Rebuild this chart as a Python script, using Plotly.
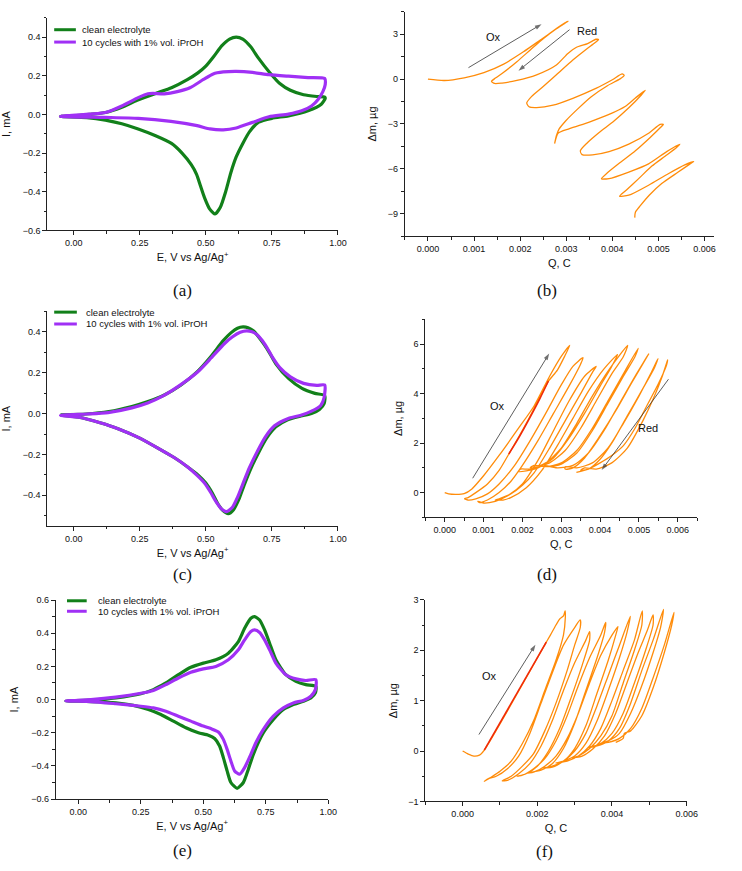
import plotly.graph_objects as go

# ---------------- data ----------------
# (a) CV, E (V) and I (mA)
a_clean_E = [-0.05, 0.0, 0.06, 0.12, 0.18, 0.24, 0.31, 0.37, 0.43, 0.47, 0.50, 0.53, 0.56, 0.59, 0.615, 0.64, 0.67, 0.70, 0.74, 0.78, 0.82, 0.87, 0.92, 0.95,
             0.952, 0.937, 0.887, 0.813, 0.75, 0.70, 0.665, 0.64, 0.615, 0.595, 0.575, 0.555, 0.535, 0.515, 0.495, 0.48, 0.465, 0.445, 0.41, 0.37, 0.31, 0.244, 0.182, 0.12, 0.05, -0.05]
a_clean_I = [-0.01, -0.008, 0.0, 0.01, 0.036, 0.073, 0.109, 0.138, 0.18, 0.215, 0.25, 0.30, 0.355, 0.39, 0.40, 0.39, 0.35, 0.29, 0.22, 0.16, 0.125, 0.102, 0.093, 0.09,
             0.084, 0.053, 0.019, -0.007, -0.02, -0.04, -0.09, -0.15, -0.22, -0.30, -0.40, -0.48, -0.515, -0.49, -0.43, -0.37, -0.31, -0.26, -0.20, -0.15, -0.11, -0.075, -0.048, -0.029, -0.016, -0.01]
a_iproh_E = [-0.05, 0.058, 0.12, 0.182, 0.244, 0.281, 0.30, 0.343, 0.392, 0.44, 0.491, 0.528, 0.566, 0.615, 0.677, 0.739, 0.813, 0.887, 0.95,
             0.952, 0.943, 0.925, 0.90, 0.863, 0.813, 0.739, 0.677, 0.615, 0.566, 0.516, 0.467, 0.368, 0.244, 0.12, -0.05]
a_iproh_I = [-0.01, 0.002, 0.01, 0.044, 0.087, 0.107, 0.109, 0.107, 0.118, 0.138, 0.181, 0.21, 0.22, 0.223, 0.218, 0.206, 0.198, 0.191, 0.186,
             0.155, 0.118, 0.078, 0.044, 0.019, 0.002, -0.012, -0.041, -0.07, -0.08, -0.075, -0.058, -0.036, -0.02, -0.015, -0.01]

# (c) CV
c_clean_E = [-0.05, 0.046, 0.133, 0.22, 0.281, 0.343, 0.405, 0.467, 0.517, 0.566, 0.595, 0.62, 0.641, 0.66, 0.68, 0.70, 0.72, 0.74, 0.765, 0.814, 0.864, 0.913, 0.95,
             0.948, 0.93, 0.90, 0.86, 0.81, 0.765, 0.73, 0.70, 0.67, 0.645, 0.625, 0.605, 0.585, 0.565, 0.545, 0.525, 0.50, 0.47, 0.43, 0.38, 0.32, 0.25, 0.17, 0.10, 0.02, -0.05]
c_clean_I = [-0.006, -0.002, 0.01, 0.035, 0.059, 0.091, 0.139, 0.204, 0.276, 0.357, 0.395, 0.418, 0.424, 0.42, 0.405, 0.375, 0.34, 0.30, 0.244, 0.171, 0.123, 0.099, 0.088,
             0.05, 0.02, 0.0, -0.012, -0.03, -0.065, -0.12, -0.19, -0.27, -0.35, -0.42, -0.47, -0.49, -0.475, -0.44, -0.39, -0.34, -0.30, -0.26, -0.215, -0.17, -0.12, -0.075, -0.045, -0.018, -0.008]
c_iproh_E = [-0.05, 0.05, 0.13, 0.22, 0.28, 0.34, 0.40, 0.47, 0.52, 0.57, 0.60, 0.63, 0.655, 0.675, 0.695, 0.715, 0.735, 0.755, 0.78, 0.82, 0.87, 0.92, 0.95,
             0.948, 0.935, 0.90, 0.86, 0.81, 0.76, 0.725, 0.695, 0.665, 0.64, 0.62, 0.60, 0.578, 0.558, 0.538, 0.518, 0.495, 0.465, 0.43, 0.38, 0.32, 0.25, 0.17, 0.10, 0.02, -0.05]
c_iproh_I = [-0.008, -0.002, 0.005, 0.028, 0.052, 0.088, 0.137, 0.205, 0.272, 0.342, 0.375, 0.398, 0.405, 0.4, 0.385, 0.355, 0.315, 0.27, 0.225, 0.18, 0.148, 0.138, 0.14,
             0.08, 0.04, 0.012, -0.008, -0.025, -0.06, -0.115, -0.185, -0.265, -0.345, -0.41, -0.46, -0.48, -0.465, -0.43, -0.385, -0.34, -0.30, -0.26, -0.215, -0.17, -0.12, -0.075, -0.045, -0.018, -0.008]

# (e) CV
e_clean_E = [-0.05, 0.05, 0.15, 0.25, 0.30, 0.35, 0.40, 0.45, 0.50, 0.55, 0.60, 0.64, 0.665, 0.69, 0.705, 0.725, 0.745, 0.765, 0.79, 0.83, 0.87, 0.91, 0.95,
             0.948, 0.93, 0.90, 0.86, 0.82, 0.78, 0.74, 0.70, 0.68, 0.66, 0.635, 0.61, 0.595, 0.58, 0.565, 0.545, 0.52, 0.48, 0.43, 0.38, 0.33, 0.28, 0.22, 0.15, 0.05, -0.05]
e_clean_I = [-0.008, -0.003, 0.01, 0.035, 0.06, 0.10, 0.15, 0.195, 0.22, 0.24, 0.28, 0.35, 0.43, 0.49, 0.50, 0.48, 0.42, 0.34, 0.24, 0.15, 0.11, 0.09, 0.08,
             0.04, 0.01, -0.01, -0.03, -0.06, -0.12, -0.20, -0.33, -0.42, -0.50, -0.535, -0.50, -0.43, -0.35, -0.28, -0.235, -0.215, -0.20, -0.17, -0.13, -0.09, -0.06, -0.035, -0.02, -0.012, -0.008]
e_iproh_E = [-0.05, 0.05, 0.15, 0.25, 0.30, 0.35, 0.40, 0.45, 0.50, 0.55, 0.60, 0.64, 0.665, 0.69, 0.705, 0.725, 0.745, 0.765, 0.79, 0.83, 0.87, 0.91, 0.95,
             0.948, 0.93, 0.90, 0.86, 0.82, 0.78, 0.74, 0.71, 0.69, 0.665, 0.645, 0.625, 0.61, 0.595, 0.58, 0.56, 0.53, 0.50, 0.45, 0.40, 0.35, 0.30, 0.25, 0.15, 0.05, -0.05]
e_iproh_I = [-0.008, 0.0, 0.015, 0.038, 0.055, 0.09, 0.13, 0.165, 0.185, 0.20, 0.24, 0.30, 0.36, 0.41, 0.42, 0.405, 0.36, 0.30, 0.22, 0.15, 0.125, 0.115, 0.12,
             0.06, 0.02, -0.005, -0.02, -0.05, -0.10, -0.18, -0.26, -0.33, -0.41, -0.45, -0.43, -0.37, -0.30, -0.24, -0.195, -0.175, -0.16, -0.13, -0.10, -0.07, -0.05, -0.04, -0.025, -0.012, -0.008]

# (b) EQCM: Q (C), dm (ug)
b_Q = [0.0, 0.000357, 0.000786, 0.001214, 0.001643, 0.002071, 0.002429, 0.002714, 0.002929, 0.003036,
       0.002964, 0.002786, 0.0025, 0.002214, 0.001929, 0.001643, 0.001464, 0.001379, 0.001443,
       0.001607, 0.001929, 0.002357, 0.002786, 0.003036, 0.003214, 0.003464, 0.003643, 0.0037,
       0.003629, 0.003429, 0.003143, 0.002786, 0.0025, 0.00225, 0.002143, 0.002193,
       0.002357, 0.002714, 0.003143, 0.003643, 0.004, 0.004214, 0.004257,
       0.004157, 0.003893, 0.003536, 0.00325, 0.002986, 0.002843, 0.002786, 0.00275,
       0.002821, 0.003071, 0.0035, 0.003929, 0.004286, 0.0045, 0.004714,
       0.004629, 0.004357, 0.004036, 0.003714, 0.003464, 0.003307, 0.003343,
       0.003571, 0.003929, 0.004357, 0.004786, 0.005036, 0.005107,
       0.005043, 0.004821, 0.0045, 0.004179, 0.003893, 0.003764,
       0.003929, 0.004357, 0.004786, 0.005179, 0.005464,
       0.005393, 0.005143, 0.004857, 0.004571, 0.0043, 0.004157,
       0.004357, 0.004786, 0.005214, 0.005571, 0.005764,
       0.005679, 0.005429, 0.005071, 0.0048, 0.004607, 0.0045, 0.004486]
b_m = [0.0, -0.09, 0.09, 0.44, 1.01, 1.83, 2.60, 3.22, 3.66, 3.88,
       3.75, 3.38, 2.71, 1.94, 1.17, 0.46, 0.07, -0.15, -0.29,
       -0.26, -0.09, 0.29, 0.95, 1.72, 2.12, 2.38, 2.67, 2.65,
       2.45, 1.99, 1.28, 0.29, -0.49, -1.15, -1.59, -1.85,
       -1.90, -1.74, -1.28, -0.62, -0.04, 0.35, 0.24,
       0.0, -0.44, -1.19, -1.99, -2.80, -3.35, -3.79, -4.28,
       -3.62, -3.31, -2.87, -2.36, -1.81, -1.26, -0.75,
       -1.06, -1.92, -2.80, -3.57, -4.24, -4.79, -5.05,
       -5.07, -4.85, -4.35, -3.62, -3.02, -3.02,
       -3.24, -3.90, -4.79, -5.56, -6.27, -6.66,
       -6.66, -6.22, -5.67, -4.85, -4.35,
       -4.57, -5.16, -5.82, -6.66, -7.43, -7.83,
       -7.77, -7.10, -6.33, -5.74, -5.52,
       -5.69, -6.22, -6.99, -7.77, -8.47, -8.91, -9.27]

# (d) EQCM
d_Q = [0.0, 0.0001, 0.0003, 0.0005, 0.0007, 0.001, 0.0014, 0.0019, 0.0023, 0.0027, 0.003, 0.00322,
       0.0031, 0.0029, 0.00267, 0.0024, 0.0021, 0.00185, 0.00165, 0.0014, 0.0011, 0.0008, 0.0006, 0.00051,
       0.0006, 0.0008, 0.0011, 0.0014, 0.0018, 0.0022, 0.0026, 0.003, 0.0033, 0.00356,
       0.0035, 0.0032, 0.0028, 0.0024, 0.002, 0.0017, 0.0014, 0.0011, 0.0009, 0.00085,
       0.001, 0.0013, 0.0016, 0.002, 0.0024, 0.0028, 0.0032, 0.0036, 0.0039,
       0.0038, 0.0035, 0.0031, 0.0027, 0.0023, 0.002, 0.0017, 0.0014, 0.0013,
       0.0015, 0.0017, 0.0021, 0.0025, 0.0029, 0.0033, 0.0037, 0.0041, 0.00445,
       0.0043, 0.004, 0.0036, 0.0032, 0.0028, 0.0024, 0.0021, 0.0019, 0.00195,
       0.0022, 0.0026, 0.003, 0.0034, 0.0038, 0.0042, 0.00471,
       0.0046, 0.0043, 0.0039, 0.0035, 0.0031, 0.0027, 0.0024, 0.0022, 0.0023,
       0.0026, 0.003, 0.0034, 0.0038, 0.0042, 0.0046, 0.00498,
       0.0049, 0.0046, 0.0042, 0.0038, 0.0034, 0.003, 0.0027, 0.0026,
       0.0029, 0.0033, 0.0037, 0.0041, 0.0045, 0.0049, 0.00525,
       0.0051, 0.0048, 0.0044, 0.004, 0.0036, 0.0033, 0.0031, 0.0031,
       0.0034, 0.0038, 0.0042, 0.0046, 0.005, 0.0053, 0.00549,
       0.0054, 0.0051, 0.0047, 0.0043, 0.004, 0.0037, 0.0035, 0.0036,
       0.0039, 0.0043, 0.0047, 0.0051, 0.0054, 0.0056, 0.00574,
       0.0057, 0.0055, 0.0052, 0.0049, 0.0046, 0.0043, 0.004, 0.0037, 0.00339]
d_m = [0.0, -0.05, -0.07, -0.04, 0.15, 0.68, 1.5, 2.6, 3.5, 4.7, 5.5, 5.95,
       5.55, 4.95, 4.5, 3.7, 2.8, 2.1, 1.56, 0.9, 0.35, 0.0, -0.2, -0.25,
       -0.3, -0.25, -0.05, 0.35, 1.1, 2.1, 3.2, 4.35, 5.1, 5.45,
       5.2, 4.3, 3.2, 2.1, 1.1, 0.45, 0.0, -0.3, -0.4, -0.35,
       -0.42, -0.35, -0.15, 0.35, 1.3, 2.5, 3.7, 4.7, 5.1,
       4.85, 4.0, 2.9, 1.8, 0.8, 0.3, -0.05, -0.25, -0.3,
       -0.3, -0.2, 0.2, 0.9, 1.9, 3.0, 4.1, 5.0, 5.58,
       5.1, 4.3, 3.2, 2.2, 1.4, 1.0, 0.88, 0.85, 0.95,
       0.95, 1.2, 1.8, 2.8, 3.9, 4.9, 5.95,
       5.5, 4.8, 3.7, 2.6, 1.7, 1.2, 1.05, 1.0, 1.1,
       1.05, 1.2, 1.7, 2.6, 3.7, 4.8, 5.83,
       5.5, 4.7, 3.6, 2.5, 1.6, 1.15, 1.05, 1.1,
       1.0, 1.1, 1.6, 2.5, 3.6, 4.7, 5.6,
       5.2, 4.4, 3.3, 2.3, 1.4, 1.0, 0.95, 1.05,
       1.0, 1.2, 1.8, 2.8, 3.9, 4.8, 5.41,
       5.05, 4.2, 3.1, 2.0, 1.35, 0.95, 0.9, 1.0,
       0.95, 1.2, 1.8, 2.9, 3.9, 4.7, 5.36,
       5.1, 4.4, 3.5, 2.6, 1.9, 1.5, 1.2, 0.95, 0.82]
d_red_Q = [0.00165, 0.0019, 0.0022, 0.00245, 0.00267]
d_red_m = [1.56, 2.2, 3.05, 3.8, 4.51]

# (f) EQCM
f_Q = [0.0, 0.00015, 0.0003, 0.00045, 0.00058, 0.00224, 0.00235, 0.0025, 0.0026, 0.0027, 0.002745,
       0.00275, 0.0027, 0.0025, 0.0022, 0.0019, 0.0016, 0.0013, 0.001, 0.0008, 0.00062, 0.00058,
       0.0007, 0.0009, 0.0012, 0.0015, 0.0018, 0.0021, 0.0024, 0.0027, 0.003, 0.00315,
       0.00315, 0.003, 0.0028, 0.0025, 0.0022, 0.0019, 0.0016, 0.0013, 0.00106,
       0.0012, 0.0015, 0.0018, 0.0021, 0.0024, 0.0027, 0.003, 0.0033, 0.0034,
       0.0034, 0.0032, 0.0029, 0.0026, 0.0023, 0.002, 0.0017, 0.00146,
       0.0016, 0.0019, 0.0022, 0.0025, 0.0028, 0.0031, 0.0034, 0.0037, 0.00383,
       0.0038, 0.0036, 0.0033, 0.003, 0.0027, 0.0024, 0.0021, 0.00172,
       0.0019, 0.0022, 0.0025, 0.0028, 0.0031, 0.0034, 0.0037, 0.004, 0.00416,
       0.0041, 0.0039, 0.0036, 0.0033, 0.003, 0.0027, 0.0024, 0.00215,
       0.0024, 0.0027, 0.003, 0.0033, 0.0036, 0.0039, 0.0042, 0.00449,
       0.0044, 0.0042, 0.0039, 0.0036, 0.0033, 0.003, 0.0027, 0.0025,
       0.0028, 0.0031, 0.0034, 0.0037, 0.004, 0.0043, 0.0046, 0.00481,
       0.0048, 0.0046, 0.0043, 0.004, 0.0037, 0.0034, 0.0031, 0.00294,
       0.0032, 0.0035, 0.0038, 0.0041, 0.0044, 0.0047, 0.00495, 0.0051,
       0.0051, 0.0049, 0.0046, 0.0043, 0.004, 0.0037, 0.00337,
       0.0036, 0.0039, 0.0042, 0.0045, 0.0048, 0.0051, 0.00538,
       0.0053, 0.0051, 0.0048, 0.0045, 0.0042, 0.0039, 0.00368,
       0.0039, 0.0042, 0.0045, 0.0048, 0.0051, 0.0054, 0.00566,
       0.0056, 0.0054, 0.0051, 0.0048, 0.0045, 0.00433, 0.0043, 0.0041]
f_m = [0.0, -0.06, -0.1, -0.08, 0.02, 2.16, 2.3, 2.5, 2.62, 2.68, 2.78,
       2.65, 2.3, 1.8, 1.2, 0.6, 0.15, -0.2, -0.4, -0.5, -0.58, -0.6,
       -0.55, -0.5, -0.35, -0.1, 0.35, 0.95, 1.55, 2.1, 2.45, 2.6,
       2.45, 2.1, 1.6, 0.95, 0.4, -0.05, -0.3, -0.5, -0.59,
       -0.58, -0.45, -0.25, 0.1, 0.6, 1.2, 1.75, 2.2, 2.37,
       2.2, 1.7, 1.05, 0.45, 0.0, -0.3, -0.45, -0.5,
       -0.48, -0.35, -0.15, 0.2, 0.7, 1.3, 1.85, 2.3, 2.55,
       2.35, 1.85, 1.2, 0.55, 0.05, -0.25, -0.38, -0.44,
       -0.42, -0.3, -0.1, 0.25, 0.75, 1.35, 1.9, 2.3, 2.47,
       2.3, 1.8, 1.15, 0.5, 0.05, -0.2, -0.3, -0.34,
       -0.32, -0.2, 0.0, 0.35, 0.9, 1.5, 2.1, 2.67,
       2.35, 1.85, 1.2, 0.6, 0.15, -0.1, -0.2, -0.24,
       -0.2, -0.1, 0.1, 0.45, 1.0, 1.6, 2.2, 2.78,
       2.5, 2.0, 1.35, 0.7, 0.3, 0.05, -0.1, -0.14,
       -0.1, 0.05, 0.3, 0.75, 1.35, 1.95, 2.4, 2.7,
       2.5, 2.0, 1.35, 0.75, 0.35, 0.15, 0.07,
       0.1, 0.2, 0.45, 0.95, 1.6, 2.2, 2.81,
       2.45, 1.95, 1.3, 0.75, 0.35, 0.2, 0.15,
       0.17, 0.25, 0.45, 0.85, 1.45, 2.1, 2.75,
       2.5, 1.95, 1.25, 0.7, 0.4, 0.35, 0.25, 0.17]
f_red_Q = [0.00058, 0.00224]
f_red_m = [0.02, 2.16]

# direction arrows (tail -> head), in data units of each panel
b_ox_arrow_Q, b_ox_arrow_m = [0.000879, 0.002464], [0.77, 3.68]
b_red_arrow_Q, b_red_arrow_m = [0.003071, 0.001964], [3.31, 0.57]
d_ox_arrow_Q, d_ox_arrow_m = [0.00072, 0.00269], [0.58, 5.62]
d_red_arrow_Q, d_red_arrow_m = [0.00576, 0.00404], [4.58, 0.91]
f_ox_arrow_Q, f_ox_arrow_m = [0.000436, 0.00195], [0.327, 2.11]

legend_labels = ["clean electrolyte", "10 cycles with 1% vol. iPrOH"]
panel_labels = ["(a)", "(b)", "(c)", "(d)", "(e)", "(f)"]

# ---------------- styles ----------------
W, H = 742, 871
GREEN = "#12801a"
PURPLE = "#a030f5"
ORANGE = "#ff8c0a"
RED = "#f02a0a"
AXC = "#222222"
FONT = "Liberation Sans, Arial, sans-serif"

def px_dom_x(x0, x1):
    return [x0 / W, x1 / W]

def px_dom_y(y0, y1):
    return [1 - y1 / H, 1 - y0 / H]

fig = go.Figure()

def cv(E, I, color, xa, ya):
    fig.add_trace(go.Scatter(x=E, y=I, mode="lines", xaxis=xa, yaxis=ya, showlegend=False,
                             line=dict(color=color, width=3.2, shape="spline", smoothing=0.6)))

def mq(Q, m, color, xa, ya, w=1.3, smooth=True):
    fig.add_trace(go.Scatter(x=Q, y=m, mode="lines", xaxis=xa, yaxis=ya, showlegend=False,
                             line=dict(color=color, width=w, shape="spline" if smooth else "linear", smoothing=0.7)))

def arrow(Q, m, xa, ya):
    fig.add_trace(go.Scatter(x=Q, y=m, mode="lines+markers", xaxis=xa, yaxis=ya, showlegend=False,
                             line=dict(color="#333", width=0.8),
                             marker=dict(symbol="arrow", angleref="previous", size=[0, 7], color="#333",
                                         line=dict(width=0))))

cv(a_clean_E, a_clean_I, GREEN, "x", "y")
cv(a_iproh_E, a_iproh_I, PURPLE, "x", "y")
mq(b_Q, b_m, ORANGE, "x2", "y2")
cv(c_clean_E, c_clean_I, GREEN, "x3", "y3")
cv(c_iproh_E, c_iproh_I, PURPLE, "x3", "y3")
mq(d_Q, d_m, ORANGE, "x4", "y4")
mq(d_red_Q, d_red_m, RED, "x4", "y4", w=1.6)
cv(e_clean_E, e_clean_I, GREEN, "x5", "y5")
cv(e_iproh_E, e_iproh_I, PURPLE, "x5", "y5")
mq(f_Q, f_m, ORANGE, "x6", "y6")
mq(f_red_Q, f_red_m, RED, "x6", "y6", w=1.6, smooth=False)
arrow(b_ox_arrow_Q, b_ox_arrow_m, "x2", "y2")
arrow(b_red_arrow_Q, b_red_arrow_m, "x2", "y2")
arrow(d_ox_arrow_Q, d_ox_arrow_m, "x4", "y4")
arrow(d_red_arrow_Q, d_red_arrow_m, "x4", "y4")
arrow(f_ox_arrow_Q, f_ox_arrow_m, "x6", "y6")

def axis(dom, rng, dtick, fmt, minor, title, anchor, tick0=0, standoff=6):
    return dict(domain=dom, range=rng, dtick=dtick, tick0=tick0, tickformat=fmt,
                showline=True, linecolor=AXC, linewidth=1, ticks="outside", ticklen=4, tickwidth=1,
                tickcolor=AXC, showgrid=False, zeroline=False, anchor=anchor,
                tickfont=dict(family=FONT, size=9, color="#111"),
                minor=dict(dtick=minor, ticks="outside", ticklen=2.5, tickcolor=AXC, tickwidth=1, showgrid=False),
                title=dict(text=title, font=dict(family=FONT, size=11, color="#111"), standoff=standoff))

E_TITLE = "E, V vs Ag/Ag<sup>+</sup>"
layout = dict(width=W, height=H, margin=dict(l=0, r=0, t=0, b=0),
              paper_bgcolor="white", plot_bgcolor="white", showlegend=False)

layout["xaxis"] = axis(px_dom_x(48, 343), [-0.1, 1.0], 0.25, ".2f", 0.125, E_TITLE, "y")
layout["yaxis"] = axis(px_dom_y(13, 228), [-0.6, 0.5], 0.2, ".1f", 0.1, "I, mA", "x", standoff=10)
layout["xaxis2"] = axis(px_dom_x(411, 724.5), [-0.0005, 0.0062], 0.001, ".3f", 0.0005, "Q, C", "y2")
layout["yaxis2"] = axis(px_dom_y(7, 233.7), [-10.5, 4.5], 3, "d", 1.5, "Δm, µg", "x2", standoff=8)
layout["xaxis3"] = axis(px_dom_x(48, 343), [-0.1, 1.0], 0.25, ".2f", 0.125, E_TITLE, "y3")
layout["yaxis3"] = axis(px_dom_y(310, 527), [-0.55, 0.5], 0.2, ".1f", 0.1, "I, mA", "x3", standoff=10)
layout["xaxis4"] = axis(px_dom_x(431.7, 707.7), [-0.0005, 0.0065], 0.001, ".3f", 0.0005, "Q, C", "y4")
layout["yaxis4"] = axis(px_dom_y(318, 518.3), [-1, 7], 2, "d", 1, "Δm, µg", "x4", standoff=8)
layout["xaxis5"] = axis(px_dom_x(56.7, 333.3), [-0.09, 1.0], 0.25, ".2f", 0.125, E_TITLE, "y5")
layout["yaxis5"] = axis(px_dom_y(602, 803.3), [-0.6, 0.6], 0.2, ".1f", 0.1, "I, mA", "x5", standoff=10)
layout["xaxis6"] = axis(px_dom_x(431.7, 697), [-0.001, 0.006], 0.002, ".3f", 0.001, "Q, C", "y6")
layout["yaxis6"] = axis(px_dom_y(601.7, 805.7), [-1, 3], 1, "d", 0.5, "Δm, µg", "x6", standoff=8)

ann = []
shapes = []
for lab, (px, py) in zip(panel_labels, [(185, 289), (555, 289), (185, 576), (555, 576), (185, 855), (553, 856)]):
    ann.append(dict(text=lab, x=px / W, y=1 - py / H, xref="paper", yref="paper", showarrow=False,
                    font=dict(family="Liberation Serif, serif", size=17, color="#111"), xanchor="center", yanchor="middle"))

for (lx0, lx1, tx, y1, y2) in [(55, 77, 81, 25, 37.5), (55, 78, 85, 310.7, 322.7), (68, 88, 97, 602.7, 613.3)]:
    for yy, col, lab in [(y1, GREEN, legend_labels[0]), (y2, PURPLE, legend_labels[1])]:
        shapes.append(dict(type="line", xref="paper", yref="paper", x0=lx0 / W, x1=lx1 / W,
                           y0=1 - yy / H, y1=1 - yy / H, line=dict(color=col, width=3)))
        ann.append(dict(text=lab, x=tx / W, y=1 - yy / H, xref="paper", yref="paper", showarrow=False,
                        xanchor="left", yanchor="middle", font=dict(family=FONT, size=9.5, color="#111")))

def label(xa, ya, pos, txt):
    ann.append(dict(x=pos[0], y=pos[1], xref=xa, yref=ya, text=txt, showarrow=False,
                    font=dict(family=FONT, size=11, color="#111")))

label("x2", "y2", (0.00143, 2.82), "Ox")
label("x2", "y2", (0.00345, 3.22), "Red")
label("x4", "y4", (0.00136, 3.48), "Ox")
label("x4", "y4", (0.00523, 2.60), "Red")
label("x6", "y6", (0.000715, 1.49), "Ox")

layout["annotations"] = ann
layout["shapes"] = shapes
fig.update_layout(**layout)
fig.write_html("out.html")
